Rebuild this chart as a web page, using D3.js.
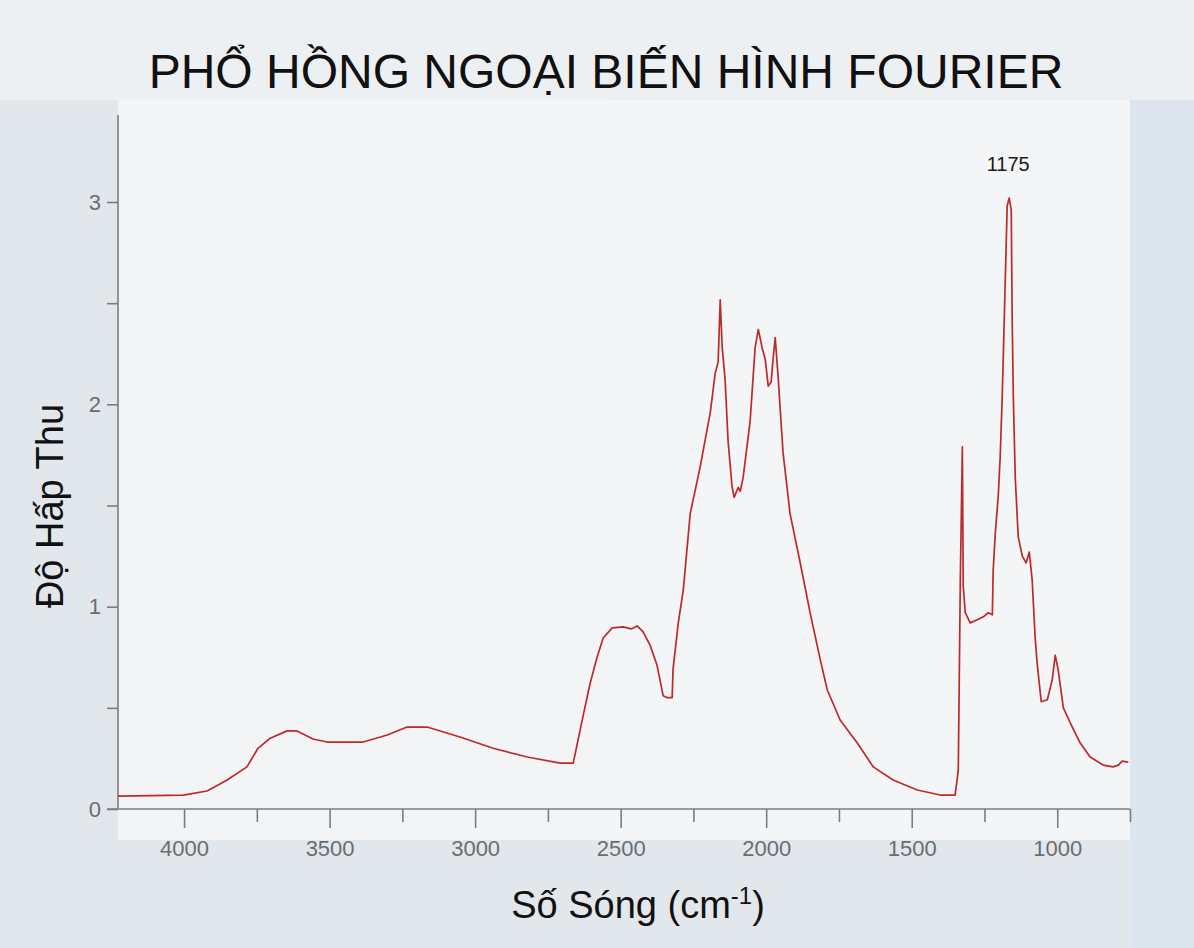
<!DOCTYPE html>
<html>
<head>
<meta charset="utf-8">
<script src="https://cdn.jsdelivr.net/npm/d3@7"></script>
<style>
  html, body { margin: 0; padding: 0; background: #e2e7ec; }
  svg { display: block; }
</style>
</head>
<body>
<svg id="chart" width="1194" height="948"></svg>
<script>
// ---- Data ----
const title = "PHỔ HỒNG NGOẠI BIẾN HÌNH FOURIER";
const yLabel = "Độ Hấp Thu";
const xLabelMain = "Số Sóng (cm";
const xLabelSup = "-1";
const peakLabel = "1175";

// wavenumber (cm-1)
const wavenumbers = [
  4227, 4003, 3921, 3852, 3784, 3746, 3704, 3646, 3612, 3557, 3509, 3385, 3302, 3234, 3165,
  3052, 2938, 2821, 2708, 2663, 2629, 2605, 2581, 2560, 2529, 2491, 2464, 2443, 2423, 2399,
  2375, 2354, 2340, 2323, 2320, 2302, 2285, 2261, 2227, 2192, 2175, 2165, 2158, 2151, 2141,
  2131, 2117, 2110, 2096, 2089, 2079, 2055, 2038, 2027, 2014, 2003, 1993, 1983, 1976, 1969,
  1959, 1942, 1918, 1883, 1849, 1814, 1790, 1746, 1687, 1632, 1564, 1481, 1402, 1351, 1340,
  1333, 1326, 1323, 1316, 1299, 1275, 1254, 1237, 1223, 1220, 1213, 1203, 1196, 1189, 1182,
  1172, 1165, 1158, 1155, 1151, 1144, 1134, 1120, 1107, 1096, 1086, 1076, 1069, 1055, 1034,
  1017, 1007, 997, 979, 955, 921, 887, 842, 808, 790, 777, 756
];
// absorbance
const absorbance = [
  0.064, 0.069, 0.089, 0.143, 0.208, 0.30, 0.35, 0.386, 0.386, 0.346, 0.331, 0.331, 0.366, 0.405, 0.405,
  0.356, 0.30, 0.257, 0.227, 0.227, 0.46, 0.62, 0.75, 0.845, 0.895, 0.90, 0.89, 0.905, 0.875, 0.81,
  0.71, 0.56, 0.55, 0.55, 0.69, 0.92, 1.08, 1.46, 1.69, 1.96, 2.155, 2.21, 2.516, 2.28, 2.12,
  1.82, 1.59, 1.54, 1.59, 1.57, 1.64, 1.92, 2.28, 2.37, 2.28, 2.22, 2.09, 2.11, 2.23, 2.33,
  2.135, 1.76, 1.46, 1.216, 0.969, 0.737, 0.588, 0.44, 0.326, 0.208, 0.143, 0.094, 0.069, 0.069, 0.19,
  1.13, 1.79, 1.10, 0.97, 0.92, 0.935, 0.95, 0.97, 0.96, 1.18, 1.36, 1.54, 1.74, 2.04, 2.42,
  2.98, 3.02, 2.96, 2.45, 2.04, 1.63, 1.345, 1.25, 1.216, 1.27, 1.13, 0.85, 0.72, 0.53, 0.54,
  0.64, 0.76, 0.69, 0.50, 0.425, 0.326, 0.257, 0.217, 0.208, 0.217, 0.237, 0.232
];

const xMajorTicks = [4000, 3500, 3000, 2500, 2000, 1500, 1000];
const xMinorTicks = [3750, 3250, 2750, 2250, 1750, 1250, 750];
const yMajorTicks = [0, 1, 2, 3];
const yMinorTicks = [0.5, 1.5, 2.5];
const xDomain = [4227, 750];
const yDomain = [0, 3.43];

// ---- Layout ----
const svg = d3.select("#chart");
const W = 1194, H = 948;
const plot = { left: 118, right: 1130, top: 115, bottom: 809 };

// background (scanned page look)
svg.append("rect").attr("x", 0).attr("y", 0).attr("width", W).attr("height", H).attr("fill", "#e2e7ec");
svg.append("rect").attr("x", 0).attr("y", 0).attr("width", W).attr("height", 100).attr("fill", "#edf0f3");
svg.append("rect").attr("x", 118).attr("y", 100).attr("width", 497).attr("height", 740).attr("fill", "#f3f4f6");
svg.append("rect").attr("x", 615).attr("y", 100).attr("width", 515).attr("height", 740).attr("fill", "#f4f5f7");
svg.append("rect").attr("x", 1130).attr("y", 100).attr("width", 64).attr("height", 848).attr("fill", "#dde5ee");

const x = d3.scaleLinear().domain(xDomain).range([plot.left, plot.right]);
const y = d3.scaleLinear().domain(yDomain).range([plot.bottom, plot.top]);

const axisColor = "#7b7d80";
const tickFont = "Liberation Sans, Arial, Helvetica, sans-serif";

// Y axis
const yAxisG = svg.append("g").attr("transform", `translate(${plot.left},0)`);
yAxisG.call(d3.axisLeft(y).tickValues(yMajorTicks.concat(yMinorTicks)).tickSize(11)
  .tickFormat(d => yMajorTicks.includes(d) ? d3.format("d")(d) : ""));
yAxisG.select(".domain").attr("d", `M0,${plot.top}V${plot.bottom}`);

// X axis
const xAxisG = svg.append("g").attr("transform", `translate(0,${plot.bottom})`);
xAxisG.call(d3.axisBottom(x).tickValues(xMajorTicks).tickSize(19).tickPadding(12).tickFormat(d3.format("d")));
xAxisG.select(".domain").attr("d", `M${plot.left - 11},0H${plot.right}`);
const xMinorG = svg.append("g").attr("transform", `translate(0,${plot.bottom})`);
xMinorG.call(d3.axisBottom(x).tickValues(xMinorTicks).tickSize(13).tickFormat(""));
xMinorG.select(".domain").remove();

[yAxisG, xAxisG, xMinorG].forEach(g => {
  g.selectAll(".domain").attr("stroke", axisColor).attr("stroke-width", 1.6);
  g.selectAll(".tick line").attr("stroke", axisColor).attr("stroke-width", 1.6);
  g.selectAll(".tick text").attr("fill", "#6b6d70").attr("font-family", tickFont).attr("font-size", 22);
});
yAxisG.selectAll(".tick text").attr("x", -17);

// Spectrum line
const data = wavenumbers.map((w, i) => ({ w, a: absorbance[i] }));
const line = d3.line().x(d => x(d.w)).y(d => y(d.a));
svg.append("path").datum(data).attr("d", line)
  .attr("fill", "none").attr("stroke", "#bd2a2a").attr("stroke-width", 1.7)
  .attr("stroke-linejoin", "round");

// Peak annotation
const peak = data.reduce((m, d) => d.a > m.a ? d : m, data[0]);
svg.append("text").attr("x", x(peak.w) - 1).attr("y", y(peak.a) - 27)
  .attr("text-anchor", "middle").attr("font-family", tickFont).attr("font-size", 20)
  .attr("fill", "#1a1a1a").text(peakLabel);

// Title
svg.append("text").attr("x", 606).attr("y", 88).attr("text-anchor", "middle")
  .attr("font-family", tickFont).attr("font-size", 48).attr("fill", "#111").text(title);

// Y label
svg.append("text").attr("transform", "translate(63,506) rotate(-90)").attr("text-anchor", "middle")
  .attr("font-family", tickFont).attr("font-size", 38).attr("fill", "#111").text(yLabel);

// X label
const xl = svg.append("text").attr("x", 638).attr("y", 918).attr("text-anchor", "middle")
  .attr("font-family", tickFont).attr("font-size", 38).attr("fill", "#111");
xl.append("tspan").text(xLabelMain);
xl.append("tspan").attr("font-size", 24).attr("dy", -14).text(xLabelSup);
xl.append("tspan").attr("dy", 14).text(")");
</script>
</body>
</html>
